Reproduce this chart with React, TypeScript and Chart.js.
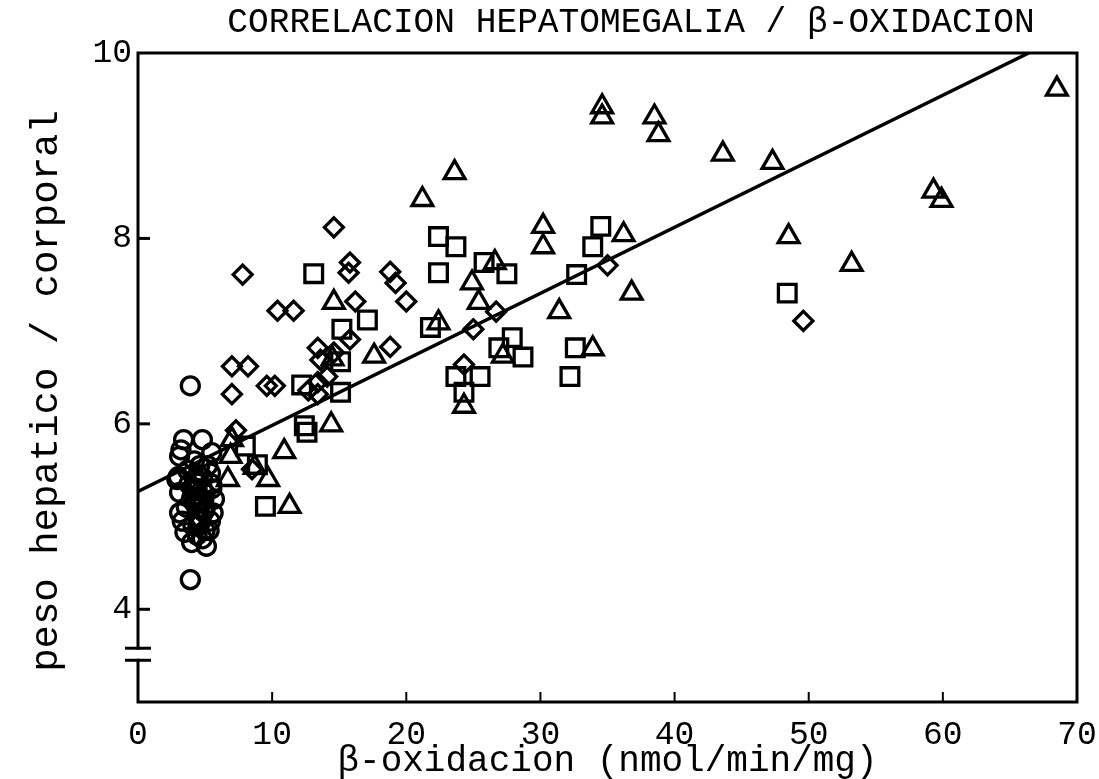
import React, { useEffect, useRef } from 'react';
import { Chart, registerables } from 'chart.js';

Chart.register(...registerables);

// ---- data ----
const circleX = [3.9, 3.9, 3.4, 4.8, 3.1, 5.5, 3.0, 5.4, 3.1, 5.7, 3.1, 5.6, 3.5, 4.8, 4.0, 5.1, 2.9, 4.2, 4.6, 3.8, 4.4, 5.0, 3.6, 4.3, 4.9, 5.5, 3.3, 4.1, 4.7, 5.3, 3.7, 4.5, 5.2, 4.0, 4.6, 5.5, 3.2, 4.4, 5.0, 5.4, 4.2, 4.5, 4.8, 4.3, 4.6, 4.9, 4.4, 4.7, 5.0, 4.1, 4.5, 4.8];
const circleY = [6.41, 4.32, 5.83, 5.83, 5.65, 5.69, 5.43, 5.47, 5.26, 5.19, 5.04, 5.04, 4.83, 4.76, 4.72, 4.68, 5.40, 5.60, 5.55, 5.35, 5.30, 5.25, 5.10, 5.15, 5.05, 5.35, 4.95, 4.90, 4.95, 4.85, 5.50, 5.45, 5.55, 5.20, 5.15, 5.30, 5.72, 4.80, 4.85, 4.95, 5.40, 5.38, 5.30, 5.20, 5.10, 5.18, 5.00, 4.98, 5.08, 5.28, 4.90, 5.42];

const diamondX = [7.8, 10.4, 11.6, 7.0, 8.2, 7.0, 9.6, 10.2, 13.4, 13.6, 14.1, 13.4, 13.4, 7.3, 8.5, 14.6, 15.8, 15.7, 18.8, 19.2, 20.0, 16.2, 26.7, 25.0, 15.8, 18.8, 24.3, 14.6, 35.0, 49.6, 12.7];
const diamondY = [7.61, 7.22, 7.22, 6.62, 6.62, 6.32, 6.41, 6.41, 6.82, 6.69, 6.51, 6.45, 6.32, 5.93, 5.51, 8.12, 7.74, 7.63, 7.64, 7.52, 7.32, 7.32, 7.21, 7.02, 6.91, 6.83, 6.64, 6.77, 7.71, 7.11, 6.36];

const squareX = [13.1, 22.4, 23.7, 22.4, 25.8, 27.5, 34.5, 33.9, 32.7, 17.1, 15.2, 21.8, 26.9, 27.9, 28.7, 32.6, 32.2, 23.7, 25.5, 24.3, 15.1, 15.1, 12.2, 12.4, 12.6, 8.0, 8.9, 9.5, 48.4];
const squareY = [7.62, 8.02, 7.91, 7.63, 7.74, 7.62, 8.13, 7.91, 7.61, 7.12, 7.02, 7.04, 6.82, 6.93, 6.72, 6.82, 6.51, 6.51, 6.51, 6.34, 6.67, 6.34, 6.42, 5.98, 5.91, 5.76, 5.56, 5.11, 7.41];

const triangleX = [68.5, 59.3, 59.9, 48.5, 53.2, 34.6, 34.6, 38.5, 38.8, 43.6, 47.3, 30.2, 30.2, 36.2, 36.8, 31.4, 33.9, 21.2, 23.6, 26.6, 24.9, 14.6, 25.4, 22.4, 17.6, 27.2, 24.3, 14.4, 14.5, 10.9, 9.7, 6.7, 11.3, 7.0, 6.9, 8.7];
const triangleY = [9.61, 8.51, 8.41, 8.02, 7.72, 9.42, 9.31, 9.31, 9.12, 8.91, 8.82, 8.13, 7.91, 8.04, 7.41, 7.21, 6.81, 8.42, 8.71, 7.74, 7.52, 7.31, 7.31, 7.09, 6.73, 6.73, 6.19, 5.99, 6.70, 5.70, 5.40, 5.40, 5.11, 5.83, 5.65, 5.53];

const fitX = [0, 66.4];
const fitY = [5.27, 10.0];

const xTicks = [0, 10, 20, 30, 40, 50, 60, 70];
const yTicks = [4, 6, 8, 10];
const yBreak = [3.45, 3.58];

const titleText = 'CORRELACION HEPATOMEGALIA / β-OXIDACION';
const xTitle = 'β-oxidacion (nmol/min/mg)';
const yTitle = 'peso hepatico / corporal';

const FONT = "'Liberation Mono', 'DejaVu Sans Mono', monospace";

const zip = (xs: number[], ys: number[]) => xs.map((x, i) => ({ x, y: ys[i] }));

const framePlugin = {
  id: 'frame',
  afterDatasetsDraw(chart: any) {
    const { ctx, chartArea, scales } = chart;
    const { left, right, top, bottom } = chartArea;
    const y = scales.y;
    const x = scales.x;
    ctx.save();
    ctx.strokeStyle = '#000';
    ctx.lineWidth = 3;
    ctx.lineCap = 'square';
    ctx.beginPath();
    ctx.moveTo(left, y.getPixelForValue(yBreak[0]));
    ctx.lineTo(left, bottom);
    ctx.lineTo(right, bottom);
    ctx.lineTo(right, top);
    ctx.lineTo(left, top);
    ctx.lineTo(left, y.getPixelForValue(yBreak[1]));
    ctx.stroke();
    ctx.lineCap = 'butt';
    for (const v of yBreak) {
      const py = y.getPixelForValue(v);
      ctx.beginPath();
      ctx.moveTo(left - 13, py);
      ctx.lineTo(left + 13, py);
      ctx.stroke();
    }
    for (const v of yTicks) {
      if (v >= 10) continue;
      const py = y.getPixelForValue(v);
      ctx.beginPath();
      ctx.moveTo(left, py);
      ctx.lineTo(left + 12, py);
      ctx.stroke();
    }
    ctx.lineWidth = 2;
    for (const v of xTicks) {
      if (v <= 0 || v >= 70) continue;
      const px = x.getPixelForValue(v);
      ctx.beginPath();
      ctx.moveTo(px, bottom);
      ctx.lineTo(px, bottom - 10);
      ctx.stroke();
    }
    ctx.fillStyle = '#000';
    ctx.font = `34.5px ${FONT}`;
    ctx.textAlign = 'center';
    ctx.textBaseline = 'middle';
    ctx.fillText(titleText, 631, 23);
    // y axis title
    ctx.save();
    ctx.translate(47, 391);
    ctx.rotate(-Math.PI / 2);
    ctx.font = `39px ${FONT}`;
    ctx.fillText(yTitle, 0, 0);
    ctx.restore();
    ctx.restore();
  },
};

export default function App() {
  const ref = useRef<HTMLCanvasElement | null>(null);
  useEffect(() => {
    if (!ref.current) return;
    const pointBase = {
      borderColor: '#000',
      backgroundColor: 'rgba(0,0,0,0)',
      borderWidth: 3.3,
      showLine: false,
    };
    const chart = new Chart(ref.current, {
      type: 'scatter',
      data: {
        datasets: [
          {
            ...pointBase,
            label: 'circles',
            data: zip(circleX, circleY),
            pointStyle: 'circle',
            pointRadius: 9,
          },
          {
            ...pointBase,
            label: 'diamonds',
            data: zip(diamondX, diamondY),
            pointStyle: 'rectRot',
            pointRadius: 9.5,
          },
          {
            ...pointBase,
            label: 'squares',
            data: zip(squareX, squareY),
            pointStyle: 'rect',
            pointRadius: 12.5,
          },
          {
            ...pointBase,
            label: 'triangles',
            data: zip(triangleX, triangleY),
            pointStyle: 'triangle',
            pointRadius: 12,
          },
          {
            type: 'line',
            label: 'fit',
            data: zip(fitX, fitY),
            borderColor: '#000',
            borderWidth: 3.5,
            pointRadius: 0,
            fill: false,
            showLine: true,
          } as any,
        ],
      },
      options: {
        responsive: false,
        animation: false,
        events: [],
        layout: { padding: { top: 53, right: 22, left: 0, bottom: 0 } },
        plugins: {
          legend: { display: false },
          tooltip: { enabled: false },
          title: { display: false },
        },
        scales: {
          x: {
            type: 'linear',
            min: 0,
            max: 70,
            grid: { display: false, drawTicks: false },
            border: { display: false },
            afterBuildTicks: (s: any) => {
              s.ticks = xTicks.map((v) => ({ value: v }));
            },
            afterFit: (s: any) => {
              s.height = 77;
              s.paddingLeft = 0;
              s.paddingRight = 0;
            },
            ticks: {
              color: '#000',
              padding: 13,
              maxRotation: 0,
              autoSkip: false,
              font: { family: FONT, size: 33 },
            },
            title: {
              display: true,
              text: xTitle,
              color: '#000',
              font: { family: FONT, size: 36, lineHeight: 1 },
              padding: { top: 0, bottom: 0 },
            },
          },
          y: {
            type: 'linear',
            min: 3,
            max: 10,
            grid: { display: false, drawTicks: false },
            border: { display: false },
            afterBuildTicks: (s: any) => {
              s.ticks = yTicks.map((v) => ({ value: v }));
            },
            afterFit: (s: any) => {
              s.width = 138;
              s.paddingTop = 0;
              s.paddingBottom = 0;
            },
            ticks: {
              color: '#000',
              padding: 6,
              autoSkip: false,
              font: { family: FONT, size: 33 },
            },
            title: { display: false, text: yTitle },
          },
        },
      },
      plugins: [framePlugin],
    });
    return () => chart.destroy();
  }, []);
  return (
    <div style={{ position: 'fixed', left: 0, top: 0, width: 1099, height: 779, background: '#fff' }}>
      <canvas ref={ref} width={1099} height={779} style={{ display: 'block' }} />
    </div>
  );
}
